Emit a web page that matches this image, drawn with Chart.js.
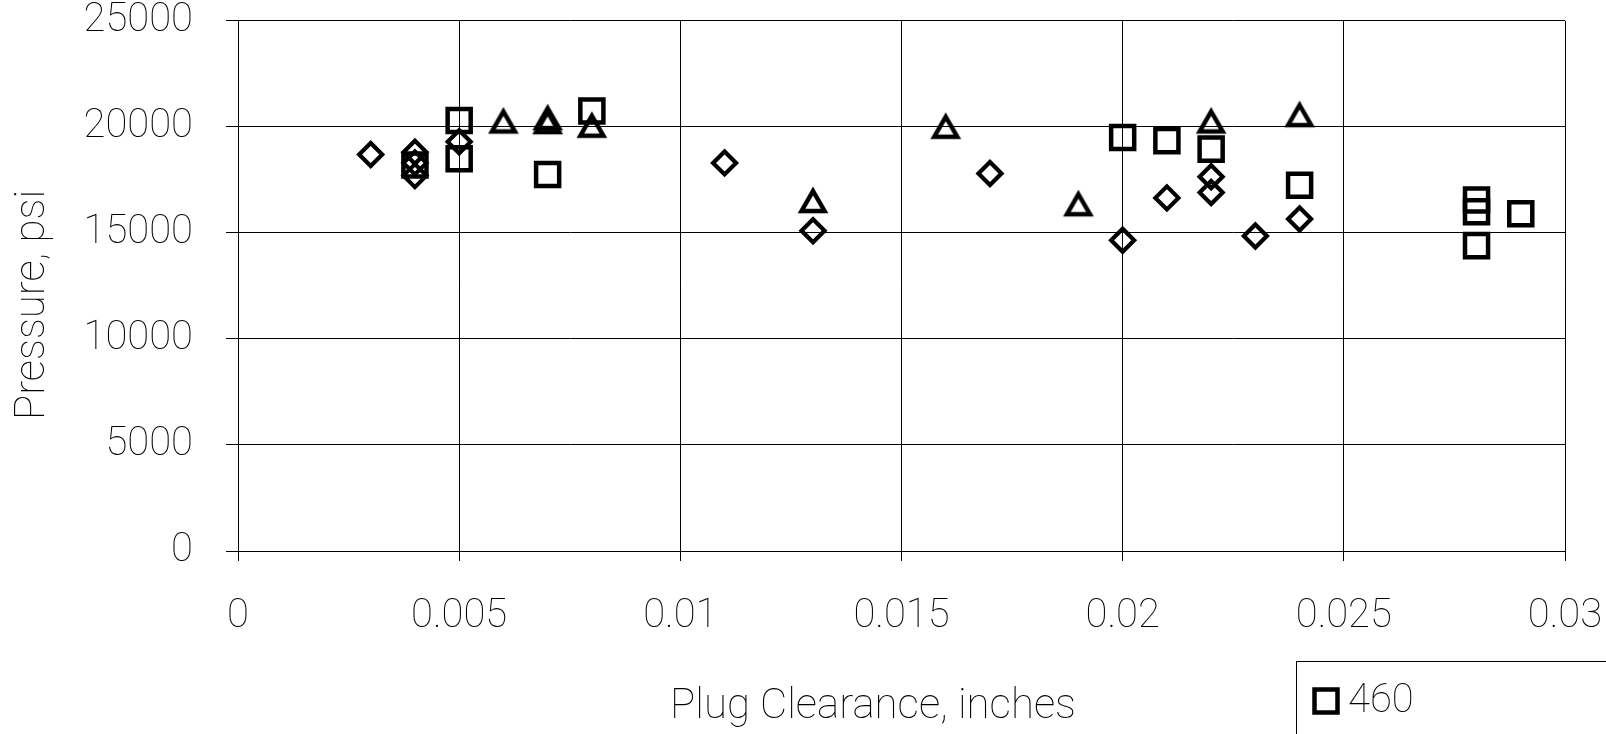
<!DOCTYPE html>
<html>
<head>
<meta charset="utf-8">
<title>Plug clearance vs pressure</title>
<script src="https://cdn.jsdelivr.net/npm/chart.js@4.4.1/dist/chart.umd.min.js"></script>
<style>
  html, body { margin: 0; padding: 0; background: #fff; }
  #wrap { width: 1606px; height: 734px; position: relative; }
</style>
</head>
<body>
<div id="wrap"><canvas id="scatter"></canvas></div>
<script>
// series: plug clearance (inches) vs pressure (psi)
const clearance460 = [0.004, 0.005, 0.005, 0.007, 0.008, 0.020, 0.021, 0.022, 0.024, 0.028, 0.028, 0.028, 0.029];
const pressure460  = [18200, 20300, 18500, 17750, 20750, 19500, 19350, 18950, 17250, 16550, 16000, 14400, 15900];

const clearanceDiamond = [0.003, 0.004, 0.004, 0.004, 0.005, 0.011, 0.013, 0.017, 0.020, 0.021, 0.022, 0.022, 0.023, 0.024];
const pressureDiamond  = [18700, 18800, 18300, 17700, 19300, 18300, 15100, 17800, 14650, 16650, 17650, 16900, 14850, 15650];

const clearanceTriangle = [0.006, 0.007, 0.007, 0.008, 0.013, 0.016, 0.019, 0.022, 0.024];
const pressureTriangle  = [20300, 20450, 20270, 20100, 16550, 20050, 16400, 20300, 20600];

const seriesNames = ["460", "440", "450"];

const xTickLabels = ["0", "0.005", "0.01", "0.015", "0.02", "0.025", "0.03"];
const yTickLabels = ["0", "5000", "10000", "15000", "20000", "25000"];

const xTitle = "Plug Clearance, inches";
const yTitle = "Pressure, psi";

function toPoints(xs, ys) {
  return xs.map((x, i) => ({ x: x, y: ys[i] }));
}

// triangle marker centred on its box (the built-in one sits on its centroid)
function triangleMarker() {
  const c = document.createElement('canvas');
  c.width = 34; c.height = 30;
  const g = c.getContext('2d');
  g.lineWidth = 4.5;
  g.lineJoin = 'miter';
  g.strokeStyle = '#000';
  g.beginPath();
  g.moveTo(17, 6);
  g.lineTo(28.5, 26);
  g.lineTo(5.5, 26);
  g.closePath();
  g.stroke();
  return c;
}

const FONT = { family: "Roboto", size: 40, weight: 100 };
const TITLE_SIZE = 42;

// axis titles and the legend box, placed like the original sheet
const annotate = {
  id: 'annotate',
  afterDraw(chart) {
    const ctx = chart.ctx;
    ctx.save();
    ctx.fillStyle = '#000';
    ctx.font = FONT.weight + ' ' + TITLE_SIZE + 'px ' + FONT.family;
    ctx.textAlign = 'center';
    ctx.textBaseline = 'alphabetic';
    ctx.fillText(xTitle, 873, 718);

    ctx.save();
    ctx.translate(44, 305);
    ctx.rotate(-Math.PI / 2);
    ctx.fillText(yTitle, 0, 0);
    ctx.restore();

    // legend (only the first entry fits inside the page)
    ctx.font = FONT.weight + ' ' + FONT.size + 'px ' + FONT.family;
    ctx.lineWidth = 1;
    ctx.strokeStyle = '#000';
    ctx.strokeRect(1296.5, 661.5, 400, 200);
    ctx.textAlign = 'left';
    ctx.textBaseline = 'middle';
    chart.data.datasets.forEach((ds, i) => {
      const cy = 701 + i * 56;
      ctx.lineWidth = 4.5;
      if (i === 0) {
        ctx.strokeRect(1314.5, cy - 11.5, 23, 23);
      }
      ctx.fillText(ds.label, 1348, cy + 1);
    });
    ctx.restore();
  }
};

new Chart(document.getElementById("scatter"), {
  type: 'scatter',
  data: {
    datasets: [
      {
        label: seriesNames[0],
        data: toPoints(clearance460, pressure460),
        pointStyle: 'rect',
        pointRadius: 16.3,
        borderColor: '#000',
        backgroundColor: 'rgba(0,0,0,0)',
        borderWidth: 4.5
      },
      {
        label: seriesNames[1],
        data: toPoints(clearanceDiamond, pressureDiamond),
        pointStyle: 'rectRot',
        pointRadius: 11.5,
        borderColor: '#000',
        backgroundColor: 'rgba(0,0,0,0)',
        borderWidth: 4.2
      },
      {
        label: seriesNames[2],
        data: toPoints(clearanceTriangle, pressureTriangle),
        pointStyle: triangleMarker(),
        pointRadius: 15,
        borderColor: '#000',
        backgroundColor: 'rgba(0,0,0,0)',
        borderWidth: 4
      }
    ]
  },
  options: {
    responsive: true,
    maintainAspectRatio: false,
    animation: false,
    events: [],
    layout: { padding: { top: 20, right: 41, left: 0, bottom: 0 } },
    plugins: {
      legend: { display: false },
      tooltip: { enabled: false }
    },
    scales: {
      x: {
        type: 'linear',
        min: 0,
        max: 0.03,
        afterFit: s => { s.height = 183; s.paddingLeft = 0; s.paddingRight = 0; },
        grid: { color: '#000', lineWidth: 1, tickLength: 10 },
        border: { color: '#000', width: 1 },
        ticks: {
          stepSize: 0.005,
          padding: 32,
          maxRotation: 0,
          color: '#000',
          font: FONT,
          callback: (v, i) => xTickLabels[i]
        }
      },
      y: {
        min: 0,
        max: 25000,
        afterFit: s => { s.width = 238; s.paddingTop = 0; s.paddingBottom = 0; },
        grid: { color: '#000', lineWidth: 1, tickLength: 12 },
        border: { color: '#000', width: 1 },
        ticks: {
          stepSize: 5000,
          padding: 33,
          color: '#000',
          font: FONT,
          callback: (v, i) => yTickLabels[i]
        }
      }
    }
  },
  plugins: [annotate]
});
</script>
</body>
</html>
